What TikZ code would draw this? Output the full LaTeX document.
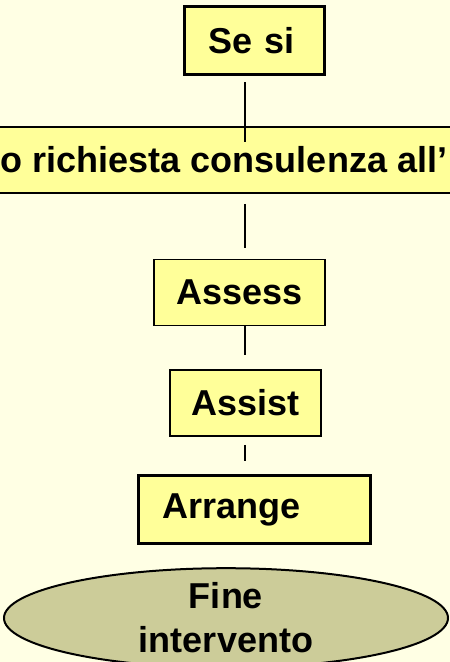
\documentclass[tikz,border=0pt]{standalone}
\usepackage{fontspec}
\setmainfont{Liberation Sans}
\usepackage{tikz}
\usetikzlibrary{shapes.geometric}
\definecolor{cream}{RGB}{255,255,228}
\definecolor{paleyellow}{RGB}{255,255,153}
\definecolor{khaki}{RGB}{204,204,153}

\begin{document}
\begin{tikzpicture}[x=1pt,y=-1pt]
	\useasboundingbox (0,0) rectangle (450,662);
	\fill[cream] (0,0) rectangle (450,662);
	\clip (0,0) rectangle (450,662);
	\coordinate (axis) at (245,0);
	\tikzstyle{every node}=[draw,fill=paleyellow,inner sep=0pt,font=\bfseries\fontsize{36}{44}\selectfont];
	\tikzstyle{thinbox}=[line width=1.5pt,minimum height=66pt];
	\tikzstyle{thickbox}=[line width=3pt,minimum height=68pt,inner xsep=24pt,align=left];
	\node[thickbox,text width=92pt] (sesi) at (254.5,40.5) {Se si};
	\node[thinbox,minimum width=520pt] (cons) at (224,160) {o richiesta consulenza all’};
	\node[thinbox,minimum width=171pt] (assess) at (239.5,292.5) {Assess};
	\node[thinbox,minimum width=151pt] (assist) at (245.5,403) {Assist};
	\node[thickbox,text width=184pt] (arrange) at (254.5,509.5) {Arrange};
	\tikzstyle{every node}=[draw,line width=2pt,fill=khaki,shape=ellipse,inner sep=0pt,align=center,font=\bfseries\fontsize{36}{44}\selectfont];
	\node[minimum width=444pt,minimum height=90pt] (fine) at (226,618) {Fine\\intervento};
	\draw[line width=1.5pt]
		([yshift=-6pt]sesi.south -| axis) -- ([yshift=-16pt]cons.north -| axis)
		([yshift=-10pt]cons.south -| axis) -- ([yshift=11pt]assess.north -| axis)
		(assess.south -| axis) -- ([yshift=14pt]assist.north -| axis)
		([yshift=-8pt]assist.south -| axis) -- ([yshift=13pt]arrange.north -| axis);
\end{tikzpicture}
\end{document}
